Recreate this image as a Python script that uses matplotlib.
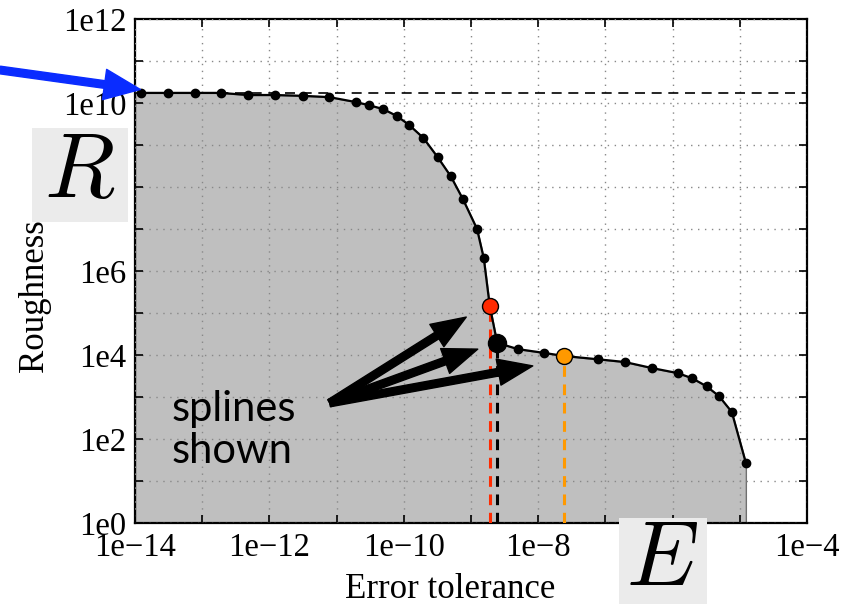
import matplotlib
matplotlib.use('Agg')
import matplotlib.pyplot as plt
from matplotlib.patches import Rectangle

# data
err_tol = [1.23e-14, 3.1e-14, 7.8e-14, 1.9e-13, 4.8e-13, 1.2e-12, 3.2e-12, 7.8e-12,
           1.95e-11, 3.0e-11, 4.9e-11, 7.9e-11, 1.2e-10, 1.95e-10, 3.2e-10, 5.0e-10,
           7.6e-10, 1.23e-9, 1.55e-9, 1.9e-9, 2.45e-9, 5.0e-9, 1.23e-8, 2.4e-8,
           7.8e-8, 1.95e-7, 4.9e-7, 1.2e-6, 1.95e-6, 3.2e-6, 4.9e-6, 7.6e-6, 1.23e-5]
roughness = [1.74e10, 1.74e10, 1.74e10, 1.74e10, 1.55e10, 1.55e10, 1.48e10, 1.38e10,
             1.05e10, 8.9e9, 7.2e9, 4.9e9, 3.0e9, 1.48e9, 5.1e8, 1.8e8,
             5.1e7, 1.0e7, 2.0e6, 1.48e5, 1.95e4, 1.38e4, 1.12e4, 9.5e3,
             7.9e3, 6.8e3, 4.9e3, 3.7e3, 2.8e3, 1.8e3, 1.05e3, 4.4e2, 27]
r_max = 1.74e10

spline_x = [1.9e-9, 2.45e-9, 2.4e-8]
spline_y = [1.48e5, 1.95e4, 9.5e3]
spline_col = ['#ff2a00', 'black', '#ff9900']
spline_size = [11.5, 13, 11.5]

xtick_vals = [10.0**k for k in range(-14, -3)]
xtick_labels = ['1e\u221214', '', '1e\u221212', '', '1e\u221210', '', '1e\u22128', '',
                '1e\u22126', '', '1e\u22124']
ytick_vals = [10.0**k for k in range(0, 13)]
ytick_labels = ['1e0', '', '1e2', '', '1e4', '', '1e6', '', '1e8', '', '1e10', '', '1e12']

plt.rcParams['font.family'] = ['Liberation Serif', 'DejaVu Serif']
plt.rcParams['mathtext.fontset'] = 'cm'

fig = plt.figure(figsize=(8.43, 6.05), dpi=100)
ax = fig.add_axes([135/843, 82/605, 672/843, 504/605])
ax.set_xscale('log')
ax.set_yscale('log')
ax.set_xlim(1e-14, 1e-4)
ax.set_ylim(1, 1e12)

# shaded area under the curve
fx = [1e-14] + err_tol
fy = [roughness[0]] + roughness
ax.fill_between(fx, fy, 1, facecolor='#bfbfbf', edgecolor='#707070', lw=1, zorder=1)

ax.axhline(r_max, color='black', ls=(0, (6, 4)), lw=1.2, zorder=3)

ax.plot(err_tol, roughness, color='black', lw=1.6, marker='o', ms=6, zorder=4)

for x, y, c, s in zip(spline_x, spline_y, spline_col, spline_size):
    ax.plot([x, x], [1, y], color=c, ls=(0, (3.5, 2.5)), lw=2.2, zorder=3)
    ax.plot(x, y, 'o', color=c, mec='black', mew=1, ms=s, zorder=5)

ax.grid(True, which='major', color='#888888', ls=(0, (1, 4)), lw=1, zorder=2)
ax.set_axisbelow(False)
ax.set_xticks(xtick_vals)
ax.set_xticklabels(xtick_labels)
ax.set_yticks(ytick_vals)
ax.set_yticklabels(ytick_labels)
ax.minorticks_off()
ax.tick_params(which='major', direction='in', length=6, width=1.2, top=True, right=True,
               labelsize=23.5, pad=6)
ax.tick_params(axis='x', pad=7)
for sp in ax.spines.values():
    sp.set_linewidth(1.6)

ax.set_xlabel('Error tolerance', fontsize=25)
ax.xaxis.set_label_coords(0.469, -0.1)
ax.set_ylabel('Roughness', fontsize=25)
ax.yaxis.set_label_coords(-0.125, 0.452)

# arrows pointing at the splines
tail = (7.9e-12, 7.2e2)
tips = [(8.5e-10, 8.0e4), (1.26e-9, 1.38e4), (8.3e-9, 5.5e3)]
for tip in tips:
    ax.annotate('', xy=tip, xytext=tail,
                arrowprops=dict(facecolor='black', edgecolor='black', width=5.5,
                                headwidth=19, headlength=25, shrink=0), zorder=6)
ax.text(3.5e-14, 1.64e2, 'splines\nshown', fontsize=30, family='Lato',
        ha='left', va='center', linespacing=1.15, zorder=6)

# blue arrow from outside the axes
ax.annotate('', xy=(1.2e-14, 2.1e10), xytext=(0, 535), textcoords='figure pixels',
            xycoords='data', annotation_clip=False,
            arrowprops=dict(facecolor='#0a2cff', edgecolor='#0a2cff', width=5.5,
                            headwidth=22, headlength=26, shrink=0), zorder=7)

# letter boxes
fig.add_artist(Rectangle((32/843, (605-222)/605), 96/843, 94/605,
                         transform=fig.transFigure, facecolor='#ebebeb', edgecolor='none', zorder=8))
fig.text(80/843, (605-175)/605, '$R$', fontsize=66, ha='center', va='center', zorder=9)
fig.add_artist(Rectangle((619/843, 1/605), 88/843, 86/605,
                         transform=fig.transFigure, facecolor='#ebebeb', edgecolor='none', zorder=8))
fig.text(662/843, (605-563)/605, '$E$', fontsize=66, ha='center', va='center', zorder=9)

fig.savefig('out.png', dpi=100)
